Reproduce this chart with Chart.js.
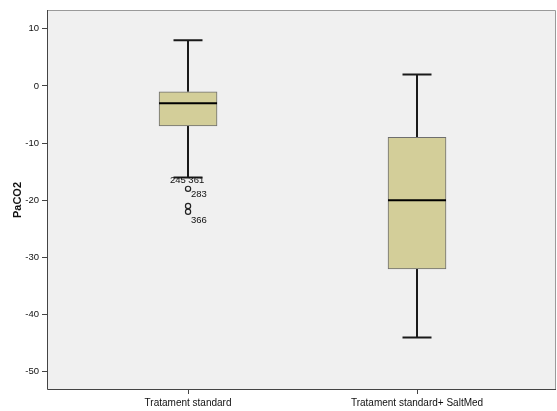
<!DOCTYPE html>
<html>
<head>
<meta charset="utf-8">
<script src="https://cdn.jsdelivr.net/npm/chart.js@4.4.1/dist/chart.umd.min.js"></script>
<style>
html,body{margin:0;padding:0;background:#fff;}
#wrap{width:557px;height:411px;position:relative;}
</style>
</head>
<body>
<div id="wrap"><canvas id="c" width="557" height="411"></canvas></div>
<script>
const categories = ['Tratament standard', 'Tratament standard+ SaltMed'];
const whiskerLow = [-16, -44];
const q1 = [-7, -32];
const median = [-3, -20];
const q3 = [-1, -9];
const whiskerHigh = [8, 2];
const outlierGroup = [0, 0, 0];
const outlierValues = [-18, -21, -22];
const labelGroup = [0, 0, 0];
const labelValues = [-16.5, -19, -23.5];
const labelTexts = ['245 361', '283', '366'];
const yTicks = [10, 0, -10, -20, -30, -40, -50];

const FONT = 'Arial, "Liberation Sans", sans-serif';

const boxPlugin = {
  id: 'boxParts',
  beforeDatasetsDraw(chart) {
    const {ctx, chartArea: a} = chart;
    ctx.save();
    ctx.fillStyle = '#f0f0f0';
    ctx.fillRect(a.left, a.top, a.right - a.left, a.bottom - a.top);
    const xs = chart.scales.x, ys = chart.scales.y;
    ctx.strokeStyle = '#1a1a1a';
    ctx.lineWidth = 2;
    categories.forEach((c, i) => {
      const x = Math.round(xs.getPixelForValue(i));
      ctx.beginPath();
      ctx.moveTo(x, ys.getPixelForValue(whiskerHigh[i]));
      ctx.lineTo(x, ys.getPixelForValue(q3[i]));
      ctx.moveTo(x, ys.getPixelForValue(q1[i]));
      ctx.lineTo(x, ys.getPixelForValue(whiskerLow[i]));
      const cw = 14.5;
      [whiskerHigh[i], whiskerLow[i]].forEach(v => {
        const y = ys.getPixelForValue(v);
        ctx.moveTo(x - cw, y);
        ctx.lineTo(x + cw, y);
      });
      ctx.stroke();
    });
    ctx.restore();
  },
  afterDatasetsDraw(chart) {
    const {ctx, chartArea: a} = chart;
    const xs = chart.scales.x, ys = chart.scales.y;
    ctx.save();
    ctx.strokeStyle = '#000';
    ctx.lineWidth = 2;
    categories.forEach((c, i) => {
      const x = xs.getPixelForValue(i);
      const y = ys.getPixelForValue(median[i]);
      ctx.beginPath();
      ctx.moveTo(x - 29, y);
      ctx.lineTo(x + 29, y);
      ctx.stroke();
    });
    ctx.fillStyle = '#111';
    ctx.font = '9.5px ' + FONT;
    ctx.textBaseline = 'middle';
    labelTexts.forEach((t, i) => {
      const x = xs.getPixelForValue(labelGroup[i]);
      const y = ys.getPixelForValue(labelValues[i]);
      if (i === 0) { ctx.textAlign = 'center'; ctx.fillText(t, x - 1, y); }
      else { ctx.textAlign = 'left'; ctx.fillText(t, x + 3, y); }
    });
    ctx.lineWidth = 1;
    ctx.strokeStyle = '#9a9a9a';
    ctx.beginPath();
    ctx.moveTo(a.left, a.top + 0.5); ctx.lineTo(a.right - 0.5, a.top + 0.5); ctx.lineTo(a.right - 0.5, a.bottom);
    ctx.stroke();
    ctx.strokeStyle = '#444';
    ctx.beginPath();
    ctx.moveTo(a.left + 0.5, a.top); ctx.lineTo(a.left + 0.5, a.bottom - 0.5); ctx.lineTo(a.right, a.bottom - 0.5);
    ctx.stroke();
    ctx.restore();
  }
};

new Chart(document.getElementById('c'), {
  type: 'bar',
  data: {
    datasets: [
      {
        type: 'bar',
        data: categories.map((c, i) => ({x: i, y: [q1[i], q3[i]]})),
        backgroundColor: '#d3ce99',
        borderColor: '#6e6e6e',
        borderWidth: 1,
        borderSkipped: false,
        barThickness: 58
      },
      {
        type: 'scatter',
        data: outlierValues.map((v, i) => ({x: outlierGroup[i], y: v})),
        pointRadius: 2.6,
        pointBackgroundColor: 'rgba(0,0,0,0)',
        pointBorderColor: '#222',
        pointBorderWidth: 1.2
      }
    ]
  },
  options: {
    responsive: false,
    animation: false,
    devicePixelRatio: 1,
    layout: {autoPadding: false, padding: {top: 10, right: 1, left: 0, bottom: 0}},
    plugins: {legend: {display: false}, tooltip: {enabled: false}},
    scales: {
      x: {
        type: 'linear',
        min: -0.616,
        max: 1.607,
        offset: false,
        afterBuildTicks: s => { s.ticks = categories.map((c, i) => ({value: i})); },
        afterFit: s => { s.height = 21; s.paddingLeft = 0; s.paddingRight = 0; },
        grid: {offset: false, drawOnChartArea: false, drawTicks: true, tickLength: 4, color: '#444', lineWidth: 1},
        border: {display: false},
        ticks: {
          callback: v => categories[v],
          color: '#111',
          font: {family: FONT, size: 10},
          padding: 3,
          maxRotation: 0,
          autoSkip: false
        }
      },
      y: {
        min: -53.2,
        max: 13.3,
        afterBuildTicks: s => { s.ticks = yTicks.map(v => ({value: v})); },
        afterFit: s => { s.width = 47; },
        grid: {drawOnChartArea: false, drawTicks: true, tickLength: 5, color: '#444', lineWidth: 1},
        border: {display: false},
        title: {display: true, text: 'PaCO2', color: '#111', font: {family: FONT, size: 11, weight: 'bold'}, padding: {top: 11, bottom: 2}},
        ticks: {color: '#111', font: {family: FONT, size: 9.5}, padding: 3}
      }
    }
  },
  plugins: [boxPlugin]
});
</script>
</body>
</html>
